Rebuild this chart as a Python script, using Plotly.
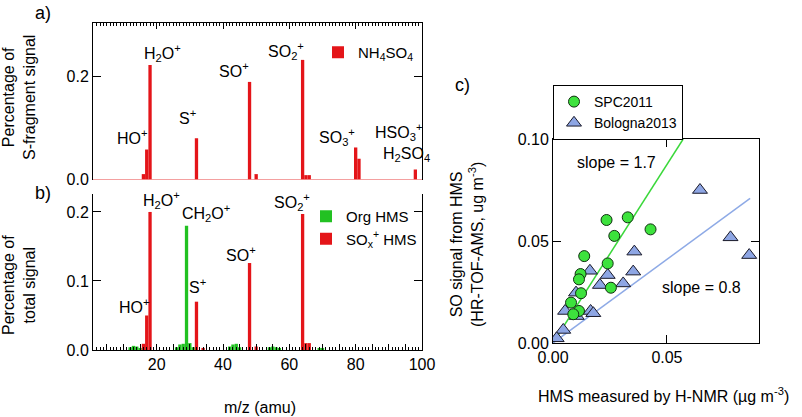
import plotly.graph_objects as go

# Panel a: S-fragment signal of NH4SO4 (fraction per m/z)
a_mz = [16, 17, 18, 32, 48, 50, 64, 65, 66, 80, 81, 98]
a_frac = [0.010, 0.058, 0.223, 0.080, 0.190, 0.010, 0.233, 0.008, 0.008, 0.062, 0.040, 0.019]

# Panel b: HMS spectrum split into organic and SOx+ fragments
org_mz = [12, 13, 14, 15, 26, 27, 28, 29, 30, 31, 42, 43, 44, 45, 54, 55, 56, 57, 69, 70]
org_frac = [0.004, 0.006, 0.005, 0.003, 0.004, 0.008, 0.009, 0.180, 0.010, 0.004,
            0.005, 0.008, 0.009, 0.004, 0.004, 0.005, 0.004, 0.003, 0.003, 0.003]
sox_mz = [16, 17, 18, 32, 34, 48, 50, 64, 65, 66]
sox_frac = [0.009, 0.050, 0.200, 0.070, 0.003, 0.126, 0.005, 0.197, 0.010, 0.010]

# Panel c: SO signal from HMS vs HMS measured by H-NMR
spc_x = [0.0235, 0.0328, 0.0269, 0.0428, 0.0137, 0.0240, 0.0121, 0.0114, 0.0123,
         0.0254, 0.0079, 0.0114, 0.0089]
spc_y = [0.0603, 0.0616, 0.0525, 0.0557, 0.0426, 0.0390, 0.0338, 0.0312, 0.0244,
         0.0271, 0.0198, 0.0157, 0.0141]
bol_x = [0.0645, 0.0779, 0.0861, 0.0357, 0.0162, 0.0240, 0.0352, 0.0206, 0.0308,
         0.0101, 0.0053, 0.0104, 0.0165, 0.0177, 0.0045, 0.0016]
bol_y = [0.0750, 0.0518, 0.0431, 0.0448, 0.0354, 0.0333, 0.0350, 0.0284, 0.0292,
         0.0247, 0.0157, 0.0132, 0.0157, 0.0146, 0.0064, 0.0023]
spc_slope = 1.75
bol_slope = 0.82
bol_fit_xmax = 0.0865

a_labels = [
    ("HO<sup>+</sup>", 12.8, 0.083),
    ("H<sub>2</sub>O<sup>+</sup>", 21.8, 0.246),
    ("S<sup>+</sup>", 29.3, 0.122),
    ("SO<sup>+</sup>", 43.4, 0.213),
    ("SO<sub>2</sub><sup>+</sup>", 59.0, 0.250),
    ("SO<sub>3</sub><sup>+</sup>", 74.3, 0.083),
    ("HSO<sub>3</sub><sup>+</sup>", 93.0, 0.093),
    ("H<sub>2</sub>SO<sub>4</sub>", 95.3, 0.0485),
]
b_labels = [
    ("H<sub>2</sub>O<sup>+</sup>", 21.4, 0.217),
    ("CH<sub>2</sub>O<sup>+</sup>", 34.9, 0.198),
    ("HO<sup>+</sup>", 13.4, 0.064),
    ("S<sup>+</sup>", 32.4, 0.093),
    ("SO<sup>+</sup>", 45.4, 0.139),
    ("SO<sub>2</sub><sup>+</sup>", 60.9, 0.215),
]

RED = "#e41519"
GREEN = "#22c122"
FONT = "Liberation Sans, Arial, sans-serif"
W, H = 802, 417


def px(x):
    return x / W


def py(y):
    return 1 - y / H


fig = go.Figure()

fig.add_trace(go.Bar(x=a_mz, y=a_frac, width=1.0, marker_color=RED, marker_line_width=0,
                     name="NH<sub>4</sub>SO<sub>4</sub>", xaxis="x", yaxis="y", legend="legend"))
fig.add_trace(go.Bar(x=org_mz, y=org_frac, width=1.0, marker_color=GREEN, marker_line_width=0,
                     name="Org HMS", xaxis="x2", yaxis="y2", legend="legend2"))
fig.add_trace(go.Bar(x=sox_mz, y=sox_frac, width=1.0, marker_color=RED, marker_line_width=0,
                     name="SO<sub>x</sub><sup>+</sup> HMS", xaxis="x2", yaxis="y2", legend="legend2"))

fit_green_x = [0, 0.1 / spc_slope]
fig.add_trace(go.Scatter(x=fit_green_x, y=[v * spc_slope for v in fit_green_x], mode="lines",
                         line=dict(color="#3ad83a", width=1.5), showlegend=False,
                         xaxis="x3", yaxis="y3"))
fit_blue_x = [0, bol_fit_xmax]
fig.add_trace(go.Scatter(x=fit_blue_x, y=[v * bol_slope for v in fit_blue_x], mode="lines",
                         line=dict(color="#8eaae6", width=1.5), showlegend=False,
                         xaxis="x3", yaxis="y3"))
fig.add_trace(go.Scatter(x=bol_x, y=bol_y, mode="markers", name="Bologna2013",
                         marker=dict(symbol="triangle-up", size=13, color="#8ea6e4",
                                     line=dict(color="#1a1a2a", width=1)),
                         xaxis="x3", yaxis="y3", legend="legend3"))
fig.add_trace(go.Scatter(x=spc_x, y=spc_y, mode="markers", name="SPC2011",
                         marker=dict(symbol="circle", size=11, color="#3de23d",
                                     line=dict(color="#103010", width=1)),
                         xaxis="x3", yaxis="y3", legend="legend3"))

ms_vals = list(range(5, 101, 5))
ms_text = [str(v) if v % 20 == 0 else "" for v in ms_vals]
ms_axis = dict(range=[0.8, 100], tickvals=ms_vals, ticktext=ms_text, ticks="inside",
               ticklen=6, tickcolor="black", showline=True, linecolor="black",
               showgrid=False, zeroline=False, automargin=False,
               minor=dict(ticks="inside", dtick=1, ticklen=3, tickcolor="black", showgrid=False),
               tickfont=dict(size=16))

axis_font = dict(family=FONT, size=16, color="black")
label_font = dict(family=FONT, size=18, color="black")


def note(text, x, y, xref="paper", yref="paper", angle=0, font=axis_font, xanchor="center"):
    if xref == "paper":
        x, y = px(x), py(y)
    return dict(text=text, x=x, y=y, xref=xref, yref=yref, showarrow=False, textangle=angle,
                xanchor=xanchor, yanchor="middle", font=font)


annotations = [note(t, x, y, "x", "y") for t, x, y in a_labels]
annotations += [note(t, x, y, "x2", "y2") for t, x, y in b_labels]
annotations += [
    note("slope = 1.7", 0.0096, 0.0887, "x3", "y3", xanchor="left"),
    note("slope = 0.8", 0.0469, 0.027, "x3", "y3", xanchor="left"),
    note("a)", 43, 13, font=label_font),
    note("b)", 43, 193, font=label_font),
    note("c)", 463, 85, font=label_font),
    note("Percentage of<br>S-fragment signal", 19, 98, angle=-90),
    note("Percentage of<br>total signal", 19, 285, angle=-90),
    note("SO signal from HMS<br>(HR-TOF-AMS, ug m<sup>-3</sup>)", 467, 245, angle=-90),
    note("m/z (amu)", 260, 407),
    note("HMS measured by H-NMR (µg m<sup>-3</sup>)", 663, 395),
]

common_y = dict(ticks="inside", ticklen=8, tickcolor="black", showline=True,
                linecolor="black", mirror="ticks", showgrid=False, automargin=False)

fig.update_layout(
    width=W, height=H,
    margin=dict(l=0, r=0, t=0, b=0),
    paper_bgcolor="white", plot_bgcolor="white",
    font=dict(family=FONT, size=16, color="black"),
    barmode="overlay",
    xaxis=dict(ms_axis, domain=[px(93), px(422)], anchor="y", side="top",
               showticklabels=False),
    yaxis=dict(common_y, domain=[py(180), py(23)], anchor="x", range=[-0.0015, 0.305],
               dtick=0.2, tickformat=".1f",
               zeroline=True, zerolinecolor="#f4a0a0", zerolinewidth=1),
    xaxis2=dict(ms_axis, domain=[px(93), px(422)], anchor="y2"),
    yaxis2=dict(common_y, domain=[py(350), py(194)], anchor="x2", range=[0, 0.226],
                dtick=0.1, tickformat=".1f", zeroline=False),
    xaxis3=dict(common_y, domain=[px(553), px(759)], anchor="y3", range=[0, 0.0904],
                dtick=0.05, tickformat=".2f", zeroline=False),
    yaxis3=dict(common_y, domain=[py(343), py(139)], anchor="x3", range=[0, 0.1],
                dtick=0.05, tickformat=".2f", zeroline=False),
    legend=dict(x=px(318), y=py(36), xanchor="left", yanchor="top",
                bgcolor="rgba(0,0,0,0)", font=dict(size=15)),
    legend2=dict(x=px(306), y=py(200), xanchor="left", yanchor="top",
                 bgcolor="rgba(0,0,0,0)", font=dict(size=15)),
    legend3=dict(x=px(553), y=py(85), xanchor="left", yanchor="top", traceorder="reversed",
                 bgcolor="white", bordercolor="black", borderwidth=1, font=dict(size=14),
                 tracegroupgap=0),
    annotations=annotations,
)

# the page's default body margin would push the plot 8px right and down
fig.write_html("out.html", config={"displayModeBar": False},
               post_script="document.body.style.margin = '0';")
